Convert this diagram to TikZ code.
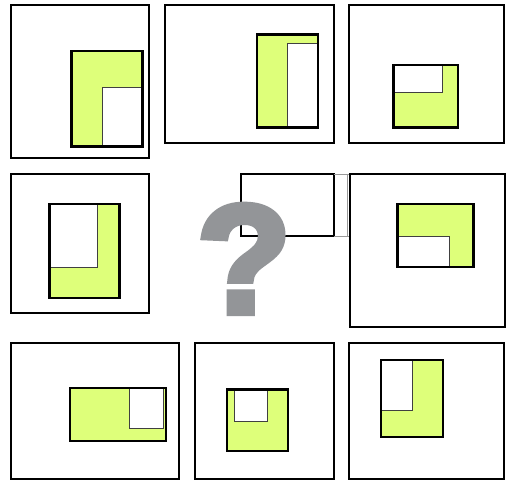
\documentclass[tikz,border=0pt]{standalone}
\usepackage{fontspec}
\setmainfont{Liberation Sans}
\newfontfamily\qfont[FakeBold=4]{Liberation Sans Bold}
\definecolor{lime}{RGB}{222,255,122}
\definecolor{qgray}{RGB}{147,149,152}
\tikzset{
  panelbox/.style={draw=black, line width=2pt, fill=white},
  figbox/.style={draw=black, line width=2.4pt},
  holeline/.style={draw=black!75, line width=0.9pt},
  grayline/.style={draw=black!40, line width=0.8pt},
}
\begin{document}
\begin{tikzpicture}[x=1pt,y=-1pt]
\useasboundingbox (0,0) rectangle (506,481);
\fill[white] (0,0) rectangle (506,481);
% panel 1
\draw[panelbox] (11,5) rectangle (149,158);
\fill[lime] (71.3,51) rectangle (142.3,146.7);
\fill[white] (102.3,87.3) rectangle (142.3,146.7);
\draw[holeline] (102.3,146.7) -- (102.3,87.3) -- (142.3,87.3);
\draw[figbox] (71.3,51) rectangle (142.3,146.7);
% panel 2
\draw[panelbox] (164.7,5) rectangle (334,142.7);
\fill[lime] (257,34.7) rectangle (318,127.7);
\fill[white] (287.7,43.3) rectangle (318,127.7);
\draw[holeline] (287.7,127.7) -- (287.7,43.3) -- (318,43.3);
\draw[figbox] (257,34.7) rectangle (318,127.7);
% panel 3
\draw[panelbox] (349.3,4.7) rectangle (504,143.3);
\fill[lime] (393.3,65) rectangle (458,127.7);
\fill[white] (393.3,65) rectangle (442,92.3);
\draw[holeline] (393.3,92.3) -- (442,92.3) -- (442,65);
\draw[figbox] (393.3,65) rectangle (458,127.7);
% panel 4
\draw[panelbox] (11,174) rectangle (149.3,312.7);
\fill[lime] (49.3,204) rectangle (119.3,298);
\fill[white] (49.3,204) rectangle (97.3,267);
\draw[holeline] (49.3,267) -- (97.3,267) -- (97.3,204);
\draw[figbox] (49.3,204) rectangle (119.3,298);
% centre
\draw[black, line width=2.2pt] (241,174) rectangle (334,236);
\draw[grayline] (334,174) -- (350,174) (334,236) -- (350,236) (347.7,174) -- (347.7,236);
\node[font=\qfont\fontsize{155}{155}\selectfont, text=qgray, inner sep=0pt, anchor=base] (q) at (244,313) {?};
% panel 6
\draw[panelbox] (350,174) rectangle (505,327.3);
\fill[lime] (397.3,204) rectangle (473.3,266.7);
\fill[white] (397.3,236) rectangle (449.3,266.7);
\draw[holeline] (397.3,236) -- (449.3,236) -- (449.3,266.7);
\draw[figbox] (397.3,204) rectangle (473.3,266.7);
% panel 7
\draw[panelbox] (11,343.3) rectangle (179.3,479.3);
\fill[lime] (70,387.7) rectangle (165.7,441);
\fill[white] (129,387.7) rectangle (163.3,428.3);
\draw[holeline] (129,387.7) -- (129,428.3) -- (163.3,428.3) -- (163.3,387.7);
\draw[figbox] (70,387.7) rectangle (165.7,441);
% panel 8
\draw[panelbox] (195,343.3) rectangle (334,479.3);
\fill[lime] (226.7,389.3) rectangle (287.7,450.7);
\fill[white] (234.3,389.3) rectangle (267,421);
\draw[holeline] (234.3,389.3) -- (234.3,421) -- (267,421) -- (267,389.3);
\draw[figbox] (226.7,389.3) rectangle (287.7,450.7);
% panel 9
\draw[panelbox] (349.3,343.3) rectangle (504,479.3);
\fill[lime] (381,360) rectangle (442.7,436.7);
\fill[white] (381,360) rectangle (412.7,410.7);
\draw[holeline] (381,410.7) -- (412.7,410.7) -- (412.7,360);
\draw[figbox] (381,360) rectangle (442.7,436.7);
\end{tikzpicture}
\end{document}
